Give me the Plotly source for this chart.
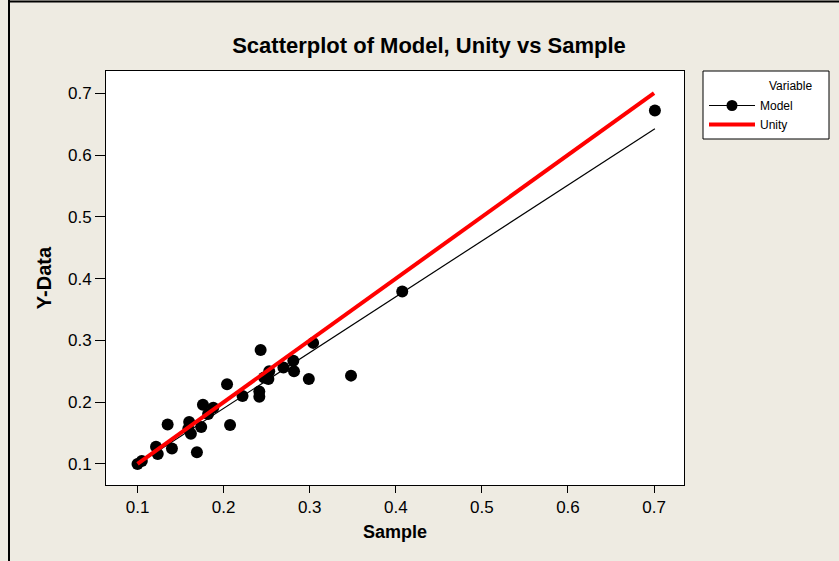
import numpy as np
import plotly.graph_objects as go

# Data
sample = [0.100, 0.105, 0.1215, 0.1235, 0.135, 0.140, 0.169, 0.160, 0.159, 0.162,
          0.174, 0.2075, 0.176, 0.182, 0.188, 0.204, 0.222, 0.243, 0.2415, 0.2415,
          0.247, 0.253, 0.252, 0.2695, 0.281, 0.2818, 0.304, 0.299, 0.348, 0.4075, 0.701]
model = [0.100, 0.105, 0.128, 0.116, 0.164, 0.125, 0.119, 0.168, 0.157, 0.149,
         0.160, 0.163, 0.196, 0.181, 0.191, 0.229, 0.210, 0.2845, 0.2175, 0.209,
         0.240, 0.250, 0.2375, 0.256, 0.267, 0.250, 0.296, 0.2375, 0.243, 0.379, 0.672]
unity_x = [0.1, 0.7]
unity_y = [0.1, 0.7]
x_ticks = [0.1, 0.2, 0.3, 0.4, 0.5, 0.6, 0.7]
y_ticks = [0.1, 0.2, 0.3, 0.4, 0.5, 0.6, 0.7]

BG = "#EEEBE2"
FONT = "Liberation Sans, Arial"

# plot-area geometry in pixels
L, R, T, B = 106, 684, 71, 485
PW, PH = R - L, B - T


def px(xp):
    return (xp - L) / PW


def py(yp):
    return (B - yp) / PH


# regression line for Model
b, a = np.polyfit(sample, model, 1)
fit_x = np.array([min(sample), max(sample)])
fit_y = a + b * fit_x

fig = go.Figure()
fig.add_trace(go.Scatter(x=sample, y=model, mode="markers", name="Model",
                         marker=dict(color="black", size=12), showlegend=False))
fig.add_trace(go.Scatter(x=fit_x, y=fit_y, mode="lines", showlegend=False,
                         line=dict(color="black", width=1.2), hoverinfo="skip"))
fig.add_trace(go.Scatter(x=unity_x, y=unity_y, mode="lines", name="Unity",
                         line=dict(color="#FF0000", width=4), showlegend=False))
# legend entries
fig.add_trace(go.Scatter(x=[None], y=[None], mode="lines+markers", name="Model",
                         line=dict(color="black", width=1.2),
                         marker=dict(color="black", size=11)))
fig.add_trace(go.Scatter(x=[None], y=[None], mode="lines", name="Unity",
                         line=dict(color="#FF0000", width=4)))

axis_common = dict(showgrid=False, zeroline=False, showline=True, linecolor="black",
                   linewidth=1, mirror=True, ticks="outside",
                   tickcolor="black", tickfont=dict(family=FONT, size=17, color="black"))

fig.update_layout(
    width=839, height=561,
    paper_bgcolor=BG, plot_bgcolor="white",
    margin=dict(l=L, r=839 - R, t=T, b=561 - B),
    title=dict(text="<b>Scatterplot of Model, Unity vs Sample</b>",
               x=429 / 839, xref="container", xanchor="center",
               y=1 - 45 / 561, yref="container", yanchor="middle",
               font=dict(family=FONT, size=22, color="black")),
    xaxis=dict(range=[0.0634, 0.7348], tickvals=x_ticks, tickformat=".1f", ticklen=7,
               title=dict(text="<b>Sample</b>", standoff=8,
                          font=dict(family=FONT, size=18, color="black")),
               **axis_common),
    yaxis=dict(range=[0.066, 0.736], tickvals=y_ticks, tickformat=".1f", ticklen=10,
               title=dict(text="<b>Y-Data</b>", standoff=10,
                          font=dict(family=FONT, size=20, color="black")),
               **axis_common),
    legend=dict(x=px(704), y=py(91), xanchor="left", yanchor="top",
                bgcolor="rgba(0,0,0,0)", borderwidth=0,
                font=dict(family=FONT, size=12, color="black"),
                tracegroupgap=0, itemwidth=46),
    annotations=[dict(text="Variable", xref="paper", yref="paper",
                      x=px(814), y=py(86), xanchor="right", yanchor="middle",
                      showarrow=False, font=dict(family=FONT, size=12, color="black"))],
    shapes=[
        dict(type="rect", xref="paper", yref="paper",
             x0=px(703), x1=px(829), y0=py(71), y1=py(139),
             fillcolor="white", line=dict(color="black", width=1), layer="below"),
        dict(type="line", xref="paper", yref="paper",
             x0=px(9), x1=px(9), y0=py(0), y1=py(570),
             line=dict(color="black", width=2)),
        dict(type="line", xref="paper", yref="paper",
             x0=px(9), x1=px(850), y0=py(1.5), y1=py(1.5),
             line=dict(color="black", width=2)),
    ],
)

fig.write_html("out.html", config={"displayModeBar": False},
               post_script="document.body.style.margin='0px';")
